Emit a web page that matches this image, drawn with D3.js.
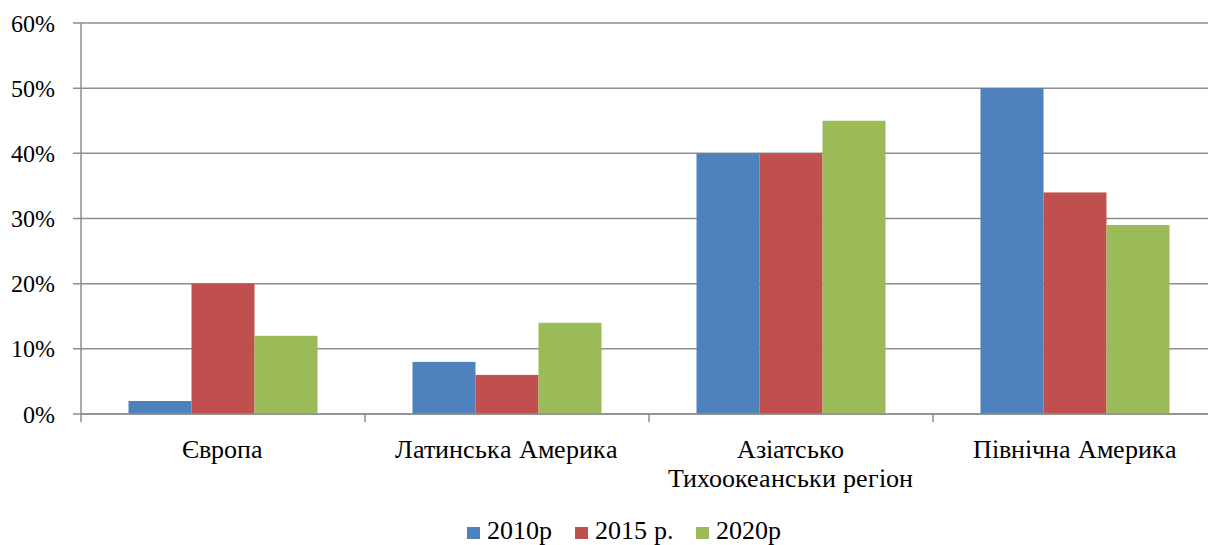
<!DOCTYPE html>
<html>
<head>
<meta charset="utf-8">
<script src="https://cdn.jsdelivr.net/npm/d3@7"></script>
<style>
  @font-face {
    font-family: "ChartSerif";
    src: local("Liberation Serif"), local("LiberationSerif"), local("LiberationSerif-Regular"), local("Tinos"), local("Times New Roman");
  }
  html, body { margin: 0; padding: 0; background: #fff; }
  #chart { display: block; font-family: "ChartSerif", "Liberation Serif", "Tinos", "Times New Roman", "FreeSerif", serif; }
  #chart text { font-family: "ChartSerif", "Liberation Serif", "Tinos", "Times New Roman", "FreeSerif", serif; }
</style>
</head>
<body>
<svg id="chart" width="1208" height="545"></svg>
<script>
// Regions (categories), one line per label row
const categories = ["Європа", "Латинська Америка", "Азіатсько Тихоокеанськи регіон", "Північна Америка"];
const categoryLines = [["Європа"], ["Латинська Америка"], ["Азіатсько", "Тихоокеанськи регіон"], ["Північна Америка"]];
const seriesNames = ["2010р", "2015 р.", "2020р"];
const values2010 = [2, 8, 40, 50];
const values2015 = [20, 6, 40, 34];
const values2020 = [12, 14, 45, 29];
const yTicks = [0, 10, 20, 30, 40, 50, 60];
const colors = ["#4F81BD", "#C0504D", "#9BBB59"];

const seriesValues = [values2010, values2015, values2020];
const rows = categories.map((c, i) => ({
  cat: c,
  vals: seriesNames.map((s, j) => ({ key: s, value: seriesValues[j][i] }))
}));

const svg = d3.select("#chart");
const plotLeft = 81, plotTop = 23, plotBottom = 414;
const step = 284;
const plotRight = plotLeft + step * categories.length;

const x0 = d3.scaleBand().domain(categories).range([plotLeft, plotRight]).padding(0);
const x1 = d3.scaleBand().domain(seriesNames).range([47.5, 236.5]).padding(0);
const y = d3.scaleLinear().domain([0, 60]).range([plotBottom, plotTop]);

const gridColor = "#8e8e8e";

// Horizontal gridlines with left tick marks
svg.append("g").selectAll("line").data(yTicks).join("line")
  .attr("x1", plotLeft - 8).attr("x2", 1208)
  .attr("y1", d => y(d)).attr("y2", d => y(d))
  .attr("stroke", gridColor).attr("stroke-width", 1.5);

// Y tick labels
svg.append("g").selectAll("text").data(yTicks).join("text")
  .attr("x", 55).attr("y", d => y(d) + 8.5)
  .attr("text-anchor", "end").attr("fill", "#000")
  .attr("font-size", 24)
  .text(d => d + "%");

// Bars
const groups = svg.append("g").selectAll("g").data(rows).join("g")
  .attr("transform", d => `translate(${x0(d.cat)},0)`);
groups.selectAll("rect").data(d => d.vals).join("rect")
  .attr("x", d => x1(d.key)).attr("width", x1.bandwidth())
  .attr("y", d => y(d.value)).attr("height", d => y(0) - y(d.value))
  .attr("fill", (d, i) => colors[i]);

// Axis lines
svg.append("line").attr("x1", plotLeft).attr("x2", plotLeft).attr("y1", plotTop).attr("y2", plotBottom + 8)
  .attr("stroke", gridColor).attr("stroke-width", 1.5);
svg.append("line").attr("x1", plotLeft).attr("x2", 1208).attr("y1", plotBottom).attr("y2", plotBottom)
  .attr("stroke", gridColor).attr("stroke-width", 1.5);
// Category separator ticks
svg.append("g").selectAll("line").data(categories.slice(1)).join("line")
  .attr("x1", d => x0(d)).attr("x2", d => x0(d))
  .attr("y1", plotBottom).attr("y2", plotBottom + 8)
  .attr("stroke", gridColor).attr("stroke-width", 1.5);

// Category labels
const lab = svg.append("g").selectAll("text").data(categories).join("text")
  .attr("x", d => x0(d) + x0.bandwidth() / 2 - 0.5)
  .attr("y", 457.5).attr("text-anchor", "middle").attr("fill", "#000")
  .attr("font-size", 26);
lab.each(function(d, i) {
  const t = d3.select(this);
  categoryLines[i].forEach((ln, k) => {
    t.append("tspan").attr("x", x0(d) + x0.bandwidth() / 2 - 0.5)
      .attr("dy", k === 0 ? 0 : 29).text(ln);
  });
});

// Legend
const legendX = [467, 575, 696];
const lg = svg.append("g").selectAll("g").data(seriesNames).join("g")
  .attr("transform", (d, i) => `translate(${legendX[i]},527)`);
lg.append("rect").attr("width", 13).attr("height", 12).attr("fill", (d, i) => colors[i]);
lg.append("text").attr("x", 19.5).attr("y", 12).attr("fill", "#000")
  .attr("font-size", 26).text(d => d);
</script>
</body>
</html>
